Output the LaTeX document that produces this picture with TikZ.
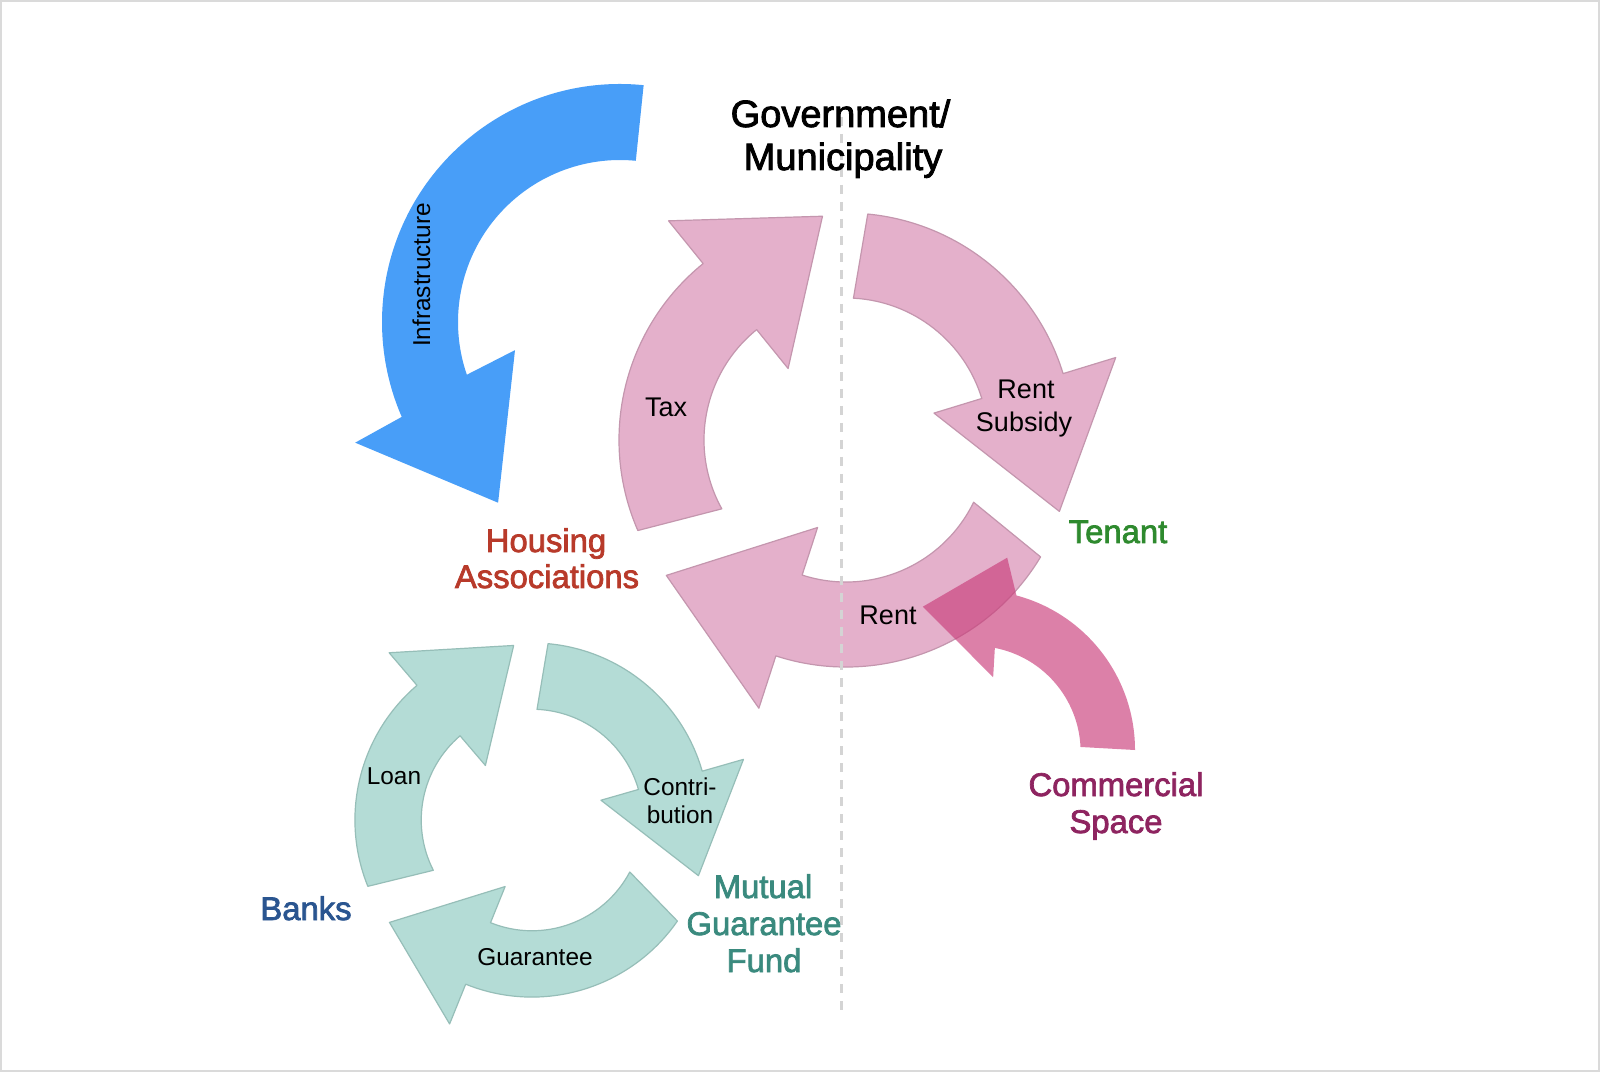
\documentclass[tikz,border=0pt]{standalone}
\usepackage{fontspec}
\setmainfont{Liberation Sans}
\newfontfamily\lblfont{Liberation Sans}[FakeBold=2.2]
\definecolor{pinkfill}{RGB}{228,176,203}
\definecolor{pinkline}{RGB}{196,150,174}
\definecolor{tealfill}{RGB}{180,220,214}
\definecolor{tealline}{RGB}{150,190,184}
\definecolor{bluefill}{RGB}{72,158,248}
\definecolor{commfill}{RGB}{202,63,123}
\definecolor{housred}{RGB}{184,58,42}
\definecolor{tengreen}{RGB}{46,138,46}
\definecolor{commpurple}{RGB}{142,36,96}
\definecolor{bankblue}{RGB}{42,85,144}
\definecolor{mgfteal}{RGB}{58,138,126}
\definecolor{dashgray}{RGB}{212,212,212}
\definecolor{framegray}{RGB}{218,218,218}
% #1 style, #2 centre name, #3 scale, #4 tail outer angle, #5 tail inner angle, #6 notch angle, #7 tip angle
\newcommand{\ringarrow}[7]{%
  \pgfmathsetmacro\rIn{142*#3}%
  \pgfmathsetmacro\rOut{227*#3}%
  \pgfmathsetmacro\bIn{92*#3}%
  \pgfmathsetmacro\bOut{282*#3}%
  \pgfmathsetmacro\tR{225*#3}%
  \path[#1] ([shift={(#4:\rOut)}]#2) arc[start angle=#4, end angle=#6, radius=\rOut]
    -- ([shift={(#6:\bOut)}]#2) -- ([shift={(#7:\tR)}]#2) -- ([shift={(#6:\bIn)}]#2)
    -- ([shift={(#6:\rIn)}]#2) arc[start angle=#6, end angle=#5, radius=\rIn] -- cycle;
}
\begin{document}
\begin{tikzpicture}[x=0.5pt,y=0.5pt,
  pinkarrow/.style={fill=pinkfill, draw=pinkline, line width=0.6pt, line join=round},
  tealarrow/.style={fill=tealfill, draw=tealline, line width=0.6pt, line join=round},
  titlelbl/.style={font=\lblfont\fontsize{19}{22}\selectfont, anchor=base, inner sep=0pt},
  actorlbl/.style={font=\lblfont\fontsize{16.4}{19}\selectfont, anchor=base, inner sep=0pt},
  pinklbl/.style={font=\fontsize{13.5}{16}\selectfont, anchor=base, inner sep=0pt},
  teallbl/.style={font=\fontsize{12.2}{14}\selectfont, anchor=base, inner sep=0pt}]
\useasboundingbox (0,0) rectangle (1600,1072);
\fill[white] (0,0) rectangle (1600,1072);
\draw[framegray, line width=1pt] (1,1) rectangle (1599,1071);

\coordinate (pc) at (846,632);
\coordinate (tc) at (532,252);
\coordinate (bc) at (620,750);
\coordinate (cc) at (975,322);

% blue infrastructure arrow
\path[fill=bluefill] ([shift={(84.3:238)}]bc) arc[start angle=84.3, end angle=203.5, radius=238]
  -- ([shift={(204.5:291)}]bc) -- ([shift={(236:218)}]bc) -- ([shift={(195:108.7)}]bc)
  -- ([shift={(199:162)}]bc) arc[start angle=199, end angle=84.4, radius=162] -- cycle;

% pink cycle
\ringarrow{pinkarrow}{pc}{1}{203.5}{209}{129}{96}
\ringarrow{pinkarrow}{pc}{1}{84.5}{87}{17}{-18.5}
\ringarrow{pinkarrow}{pc}{1}{-31}{-26}{-108}{-143}

% teal cycle
\ringarrow{tealarrow}{tc}{0.78}{202}{207}{130.5}{96}
\ringarrow{tealarrow}{tc}{0.78}{84.8}{87.4}{16}{-18.5}
\ringarrow{tealarrow}{tc}{0.78}{-34.8}{-28}{-112}{-144.3}

% commercial arrow
\path[fill=commfill, fill opacity=0.66] ([shift={(0:160)}]cc) arc[start angle=0, end angle=75, radius=160]
  -- ([shift={(80.5:195)}]cc) -- ([shift={(110:152.5)}]cc) -- ([shift={(76:75)}]cc)
  -- ([shift={(79:104)}]cc) arc[start angle=79, end angle=2.7, radius=106] -- cycle;

% dashed divider
\coordinate (dtop) at (841,955);
\coordinate (dbot) at (841,60);
\draw[dashgray, line width=1.5pt, dash pattern=on 4.5pt off 4pt] (dtop) -- (dbot);

% labels
\node[titlelbl] (gov1) at (840.5,945) {Government/};
\node[titlelbl] (gov2) at (843,902) {Municipality};
\node[actorlbl, text=housred] (ha1) at (546,520) {Housing};
\node[actorlbl, text=housred] (ha2) at (547,484) {Associations};
\node[actorlbl, text=tengreen] (ten) at (1118,529) {Tenant};
\node[actorlbl, text=commpurple] (cs1) at (1116,276) {Commercial};
\node[actorlbl, text=commpurple] (cs2) at (1116,239) {Space};
\node[actorlbl, text=bankblue] (bank) at (306,152) {Banks};
\node[actorlbl, text=mgfteal] (mg1) at (763,174) {Mutual};
\node[actorlbl, text=mgfteal] (mg2) at (764,137) {Guarantee};
\node[actorlbl, text=mgfteal] (mg3) at (764,100) {Fund};

\node[pinklbl] (tax) at (666,655) {Tax};
\node[pinklbl] (rs1) at (1026,673) {Rent};
\node[pinklbl] (rs2) at (1024,640) {Subsidy};
\node[pinklbl] (rent) at (888,447) {Rent};

\node[teallbl] (loan) at (394,288) {Loan};
\node[teallbl] (con1) at (680,277) {Contri-};
\node[teallbl] (con2) at (680,249) {bution};
\node[teallbl] (guar) at (535,107) {Guarantee};
\node[teallbl, rotate=90] (infra) at (430,797) {Infrastructure};
\end{tikzpicture}
\end{document}
